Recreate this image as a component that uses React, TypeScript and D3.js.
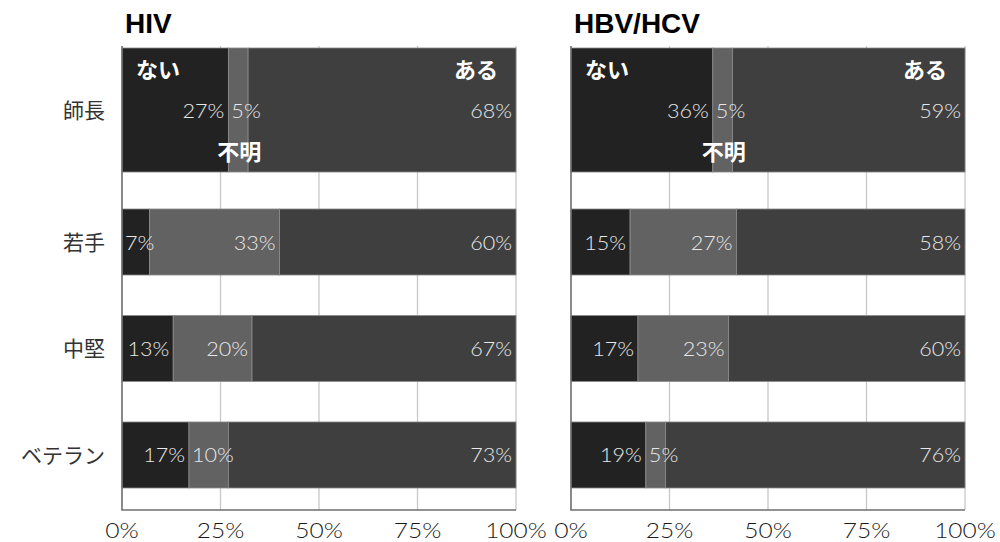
import React from "react";
import * as d3 from "d3";

// Respondent groups, top to bottom
const categories = ["師長", "若手", "中堅", "ベテラン"];

// Answer segments, left to right
const answers = ["ない", "不明", "ある"];

// Shares (%) per group for each panel: [ない, 不明, ある]
const hivNo = [27, 7, 13, 17];
const hivUnknown = [5, 33, 20, 10];
const hivYes = [68, 60, 67, 73];

const hbvNo = [36, 15, 17, 19];
const hbvUnknown = [5, 27, 23, 5];
const hbvYes = [59, 58, 60, 76];

const panelTitles = ["HIV", "HBV/HCV"];
const tickValues = [0, 25, 50, 75, 100];

const W = 1000;
const H = 542;
const PLOT_TOP = 46;
const PLOT_BOTTOM = 510;
const PANEL_WIDTH = 394;
const PANEL_LEFTS = [122, 571];

const FILLS: Record<string, string> = {
  "ない": "#222222",
  "不明": "#626262",
  "ある": "#3f3f3f",
};

const JP = "'Noto Sans CJK JP', 'Noto Sans', sans-serif";
const NUM = "Lato, 'Noto Sans', sans-serif";
const LATIN = "'Liberation Sans', Arial, sans-serif";

// Band layout for the rows; the first row is stretched to host the answer key.
const yBand = d3
  .scaleBand<string>()
  .domain(categories)
  .range([80.5, PLOT_BOTTOM])
  .paddingInner(0.38)
  .paddingOuter(0.2066);

function rowExtent(cat: string): [number, number] {
  const y0 = yBand(cat)!;
  const y1 = y0 + yBand.bandwidth();
  if (cat === categories[0]) return [PLOT_TOP + 2, y1 + 3.5];
  return [y0, y1];
}

// Text width used for placing and sizing the numeric labels
function labelWidth(txt: string, size: number) {
  let w = 0;
  for (const ch of txt) w += ch === "%" ? 0.84 : 0.6;
  return w * size;
}

type Seg = { key: string; start: number; end: number; value: number };

function Panel({
  left,
  title,
  no,
  unknown,
  yes,
}: {
  left: number;
  title: string;
  no: number[];
  unknown: number[];
  yes: number[];
}) {
  const x = d3.scaleLinear().domain([0, 100]).range([left, left + PANEL_WIDTH]);
  const stack = d3
    .stack<{ [k: string]: number }>()
    .keys(answers)(
      categories.map((_, i) => ({ "ない": no[i], "不明": unknown[i], "ある": yes[i] }))
    );

  const LABEL_SIZE = 20.5;
  const PAD_END = 4;
  const PAD_START = 3;

  return (
    <g>
      <text
        x={x(0) + 3}
        y={33}
        fontFamily={LATIN}
        fontWeight={700}
        fontSize={28}
        fill="#000"
      >
        {title}
      </text>

      {/* vertical grid */}
      {tickValues.map((t) => (
        <line
          key={"g" + t}
          x1={x(t)}
          x2={x(t)}
          y1={PLOT_TOP}
          y2={PLOT_BOTTOM}
          stroke="#c8c8c8"
          strokeWidth={1.3}
        />
      ))}

      {/* bars */}
      {categories.map((cat, i) => {
        const [y0, y1] = rowExtent(cat);
        const segs: Seg[] = stack.map((s) => ({
          key: s.key,
          start: s[i][0],
          end: s[i][1],
          value: s[i][1] - s[i][0],
        }));
        const cy = (y0 + y1) / 2;
        return (
          <g key={cat}>
            {segs.map((sg) => (
              <rect
                key={sg.key}
                x={x(sg.start)}
                y={y0}
                width={x(sg.end) - x(sg.start)}
                height={y1 - y0}
                fill={FILLS[sg.key]}
                stroke="#8c8c8c"
                strokeWidth={0.8}
              />
            ))}
            {segs.map((sg) => {
              const txt = `${sg.value}%`;
              const w = labelWidth(txt, LABEL_SIZE);
              const xs = Math.max(x(sg.start) + PAD_START, x(sg.end) - PAD_END - w);
              return (
                <text
                  key={"t" + sg.key}
                  x={xs}
                  y={cy + 7.5}
                  fontFamily={NUM}
                  fontWeight={300}
                  fontSize={LABEL_SIZE}
                  fill="#e8e8e8"
                  textLength={w}
                  lengthAdjust="spacingAndGlyphs"
                >
                  {txt}
                </text>
              );
            })}
            {i === 0 && (
              <g fontFamily={JP} fontWeight={700} fontSize={22} fill="#ffffff">
                <text x={x(0) + 14} y={y0 + 22} dy="0.36em">
                  {answers[0]}
                </text>
                <text
                  x={x((segs[1].start + segs[1].end) / 2) + 1}
                  y={y1 - 20}
                  dy="0.36em"
                  textAnchor="middle"
                >
                  {answers[1]}
                </text>
                <text x={x(100) - 18} y={y0 + 22} dy="0.36em" textAnchor="end">
                  {answers[2]}
                </text>
              </g>
            )}
          </g>
        );
      })}

      {/* axes */}
      <line x1={x(0)} x2={x(0)} y1={PLOT_TOP} y2={PLOT_BOTTOM} stroke="#6e6e6e" strokeWidth={1.5} />
      <line x1={x(0) - 0.75} x2={x(100)} y1={PLOT_BOTTOM} y2={PLOT_BOTTOM} stroke="#6e6e6e" strokeWidth={1.5} />

      {tickValues.map((t) => {
        const txt = `${t}%`;
        const w = labelWidth(txt, 22) * 1.06;
        return (
          <text
            key={"tl" + t}
            x={x(t)}
            y={537.5}
            textAnchor="middle"
            fontFamily={NUM}
            fontWeight={300}
            fontSize={22}
            fill="#1a1a1a"
            textLength={w}
            lengthAdjust="spacingAndGlyphs"
          >
            {txt}
          </text>
        );
      })}
    </g>
  );
}

export default function App() {
  const x0 = PANEL_LEFTS[0];
  return (
    <div style={{ position: "absolute", left: 0, top: 0 }}>
      <svg width={W} height={H} style={{ display: "block", background: "#fff" }}>
        {categories.map((cat) => {
          const [y0, y1] = rowExtent(cat);
          return (
            <text
              key={cat}
              x={x0 - 17}
              y={(y0 + y1) / 2}
              dy="0.36em"
              textAnchor="end"
              fontFamily={JP}
              fontSize={21}
              fill="#333"
            >
              {cat}
            </text>
          );
        })}
        <Panel left={PANEL_LEFTS[0]} title={panelTitles[0]} no={hivNo} unknown={hivUnknown} yes={hivYes} />
        <Panel left={PANEL_LEFTS[1]} title={panelTitles[1]} no={hbvNo} unknown={hbvUnknown} yes={hbvYes} />
      </svg>
    </div>
  );
}
